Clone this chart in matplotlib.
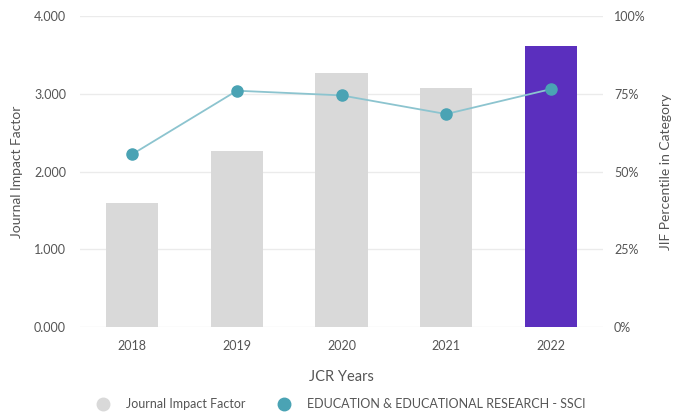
import matplotlib.pyplot as plt
from matplotlib.lines import Line2D

years = ['2018', '2019', '2020', '2021', '2022']
jif = [1.595, 2.265, 3.27, 3.08, 3.61]
percentile = [55.6, 76.0, 74.5, 68.5, 76.5]

gray = '#d9d9d9'
purple = '#5b2fbe'
teal = '#4aa3b4'
line_c = '#8cc4cf'
txt = '#555555'

plt.rcParams['font.family'] = ['Lato', 'DejaVu Sans']

fig = plt.figure(figsize=(6.76, 4.16), dpi=100)
ax1 = fig.add_axes([80 / 676, 1 - 327.3 / 416, 523 / 676, 311.3 / 416])
ax2 = ax1.twinx()

x = list(range(len(years)))
bar_colors = [gray] * 4 + [purple]
ax1.bar(x, jif, width=0.5, color=bar_colors, zorder=2)
ax1.set_ylim(0, 4)
ax1.set_xlim(-0.5, 4.5)
ax1.set_yticks([0, 1, 2, 3, 4])
ax1.set_yticklabels(['0.000', '1.000', '2.000', '3.000', '4.000'])
ax1.set_xticks(x)
ax1.set_xticklabels(years)
ax1.grid(axis='y', color='#ebebeb', lw=1, zorder=0)
ax1.set_axisbelow(True)

ax2.plot(x, percentile, color=line_c, lw=1.3, marker='o', ms=8,
         mfc=teal, mec=teal, zorder=3)
ax2.set_ylim(0, 100)
ax2.set_yticks([0, 25, 50, 75, 100])
ax2.set_yticklabels(['0%', '25%', '50%', '75%', '100%'])

for ax in (ax1, ax2):
    for s in ax.spines.values():
        s.set_visible(False)
    ax.tick_params(length=0, labelsize=9, colors=txt)
ax1.tick_params(axis='y', pad=10)
ax1.tick_params(axis='x', pad=9)
ax2.tick_params(axis='y', pad=8)

ax1.set_ylabel('Journal Impact Factor', fontsize=10, color=txt, labelpad=8)
ax2.set_ylabel('JIF Percentile in Category', fontsize=10, color=txt, labelpad=10)
ax1.set_xlabel('JCR Years', fontsize=10.5, color=txt, labelpad=13)

handles = [
    Line2D([], [], ls='none', marker='o', ms=9, mfc=gray, mec=gray),
    Line2D([], [], ls='none', marker='o', ms=9, mfc=teal, mec=teal),
]
fig.legend(handles, ['Journal Impact Factor', 'EDUCATION & EDUCATIONAL RESEARCH - SSCI'],
           loc='center', bbox_to_anchor=(0.5, 1 - 404 / 416), ncol=2, frameon=False,
           fontsize=9, labelcolor=txt, handletextpad=0.9, columnspacing=2.0)

fig.savefig('out.png', dpi=100)
